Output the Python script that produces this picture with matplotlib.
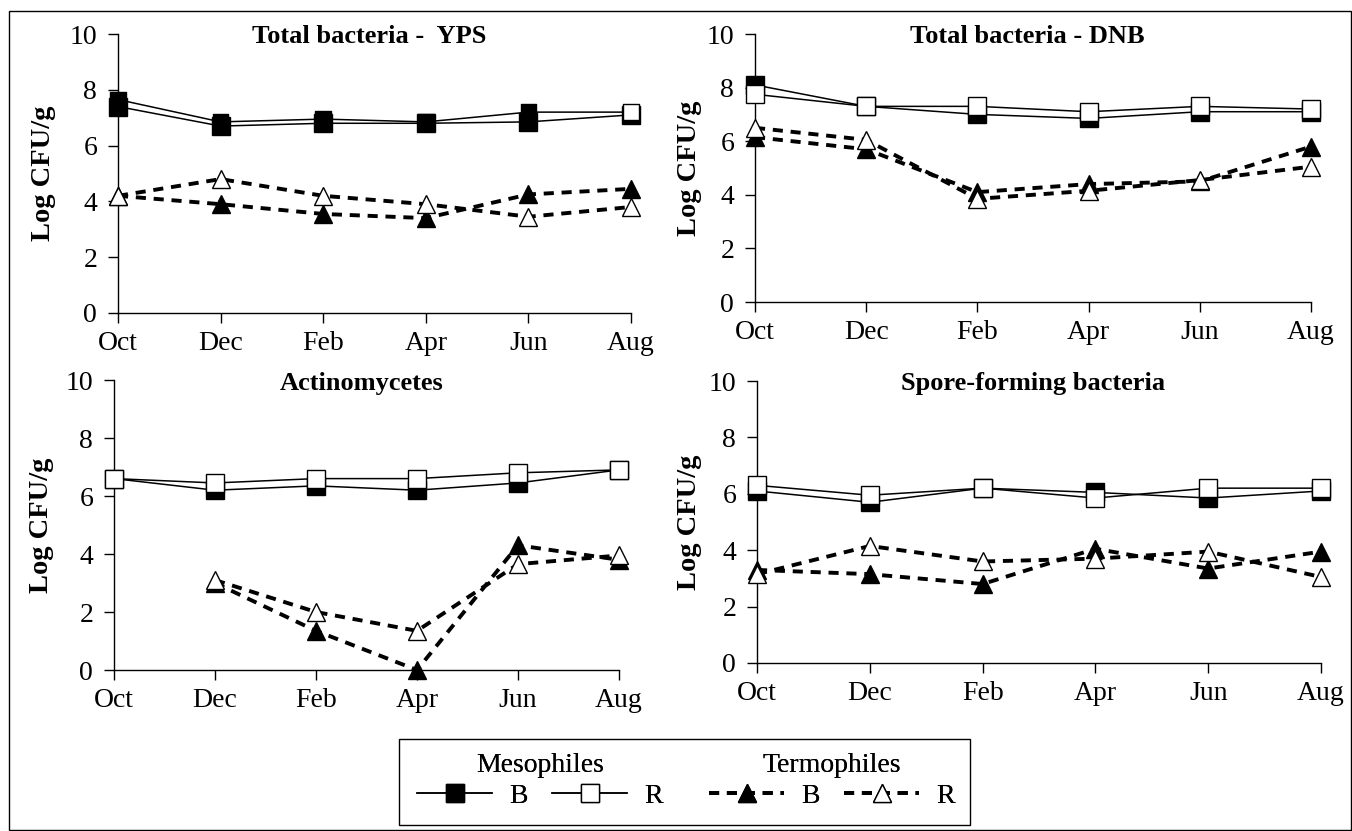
import numpy as np
import matplotlib
matplotlib.use('Agg')
import matplotlib.pyplot as plt
from matplotlib.lines import Line2D
from matplotlib.patches import Rectangle

plt.rcParams['font.family'] = ['Liberation Serif', 'DejaVu Serif']

"""
    Values read from the four panels (Log CFU/g), sampling every two months
"""
months = ['Oct', 'Dec', 'Feb', 'Apr', 'Jun', 'Aug']
titles = ['Total bacteria -  YPS', 'Total bacteria - DNB',
          'Actinomycetes', 'Spore-forming bacteria']

# Total bacteria - YPS
yps_meso_B = [7.4, 6.7, 6.8, 6.8, 6.85, 7.1]
yps_meso_R = [7.65, 6.85, 6.95, 6.85, 7.2, 7.2]
yps_term_B = [4.2, 3.9, 3.55, 3.4, 4.25, 4.45]
yps_term_R = [4.2, 4.8, 4.2, 3.9, 3.45, 3.8]

# Total bacteria - DNB
dnb_meso_B = [8.1, 7.3, 7.0, 6.85, 7.1, 7.1]
dnb_meso_R = [7.75, 7.3, 7.3, 7.1, 7.3, 7.2]
dnb_term_B = [6.15, 5.7, 4.1, 4.4, 4.5, 5.8]
dnb_term_R = [6.5, 6.05, 3.85, 4.15, 4.55, 5.05]

# Actinomycetes (no thermophile count in October)
act_meso_B = [6.6, 6.2, 6.35, 6.2, 6.45, 6.9]
act_meso_R = [6.6, 6.45, 6.6, 6.6, 6.8, 6.9]
act_term_B = [np.nan, 3.0, 1.35, 0.0, 4.3, 3.8]
act_term_R = [np.nan, 3.1, 2.0, 1.35, 3.65, 3.95]

# Spore-forming bacteria
spo_meso_B = [6.1, 5.7, 6.2, 6.05, 5.85, 6.1]
spo_meso_R = [6.3, 5.95, 6.2, 5.85, 6.2, 6.2]
spo_term_B = [3.3, 3.15, 2.8, 4.05, 3.35, 3.95]
spo_term_R = [3.15, 4.15, 3.6, 3.7, 3.95, 3.05]

# in the YPS panel the R squares are printed filled, except the last one
yps_meso_R_fill = ['k', 'k', 'k', 'k', 'k', 'w']

panels = [
    (yps_meso_B, yps_meso_R, yps_term_B, yps_term_R),
    (dnb_meso_B, dnb_meso_R, dnb_term_B, dnb_term_R),
    (act_meso_B, act_meso_R, act_term_B, act_term_R),
    (spo_meso_B, spo_meso_R, spo_term_B, spo_term_R),
]

#%%
W, H = 1352, 831
fig = plt.figure(figsize=(W / 100, H / 100), dpi=100)

# axes boxes in pixels: left, right, top, bottom
boxes = [(118, 631, 34, 313), (755, 1311, 34, 302),
         (114, 619, 380, 670), (757, 1321, 381, 663)]
ylab_right = [56, 702, 54, 702]

dash = (0, (2.6, 2))
msize = 12.5
tick_fs = 20

x = np.arange(len(months))

for i, (mB, mR, tB, tR) in enumerate(panels):
    l, r, t, b = boxes[i]
    ax = fig.add_axes([l / W, 1 - b / H, (r - l) / W, (b - t) / H])

    ax.plot(x, mB, color='black', lw=1.1, marker='s', ms=msize,
            mfc='black', mec='black', clip_on=False, zorder=3)
    if i == 0:
        ax.plot(x, mR, color='black', lw=1.1, clip_on=False, zorder=4)
        ax.scatter(x, mR, marker='s', s=(msize * 0.9) ** 2,
                   facecolors=yps_meso_R_fill, edgecolors='black',
                   linewidths=1.0, clip_on=False, zorder=4)
    else:
        ax.plot(x, mR, color='black', lw=1.1, marker='s', ms=msize,
                mfc='white', mec='black', mew=1.0, clip_on=False, zorder=4)

    ax.plot(x, tB, color='black', lw=2.8, ls=dash, marker='^', ms=msize + 1,
            mfc='black', mec='black', clip_on=False, zorder=5)
    ax.plot(x, tR, color='black', lw=2.8, ls=dash, marker='^', ms=msize + 1,
            mfc='white', mec='black', mew=1.0, clip_on=False, zorder=6)

    ax.set_xlim(0, 5)
    ax.set_ylim(0, 10)
    ax.set_xticks(x)
    ax.set_xticklabels(months)
    ax.set_yticks(np.arange(0, 11, 2))
    for s in ['top', 'right']:
        ax.spines[s].set_visible(False)
    for s in ['left', 'bottom']:
        ax.spines[s].set_linewidth(1.0)
    ax.tick_params(axis='both', direction='out', length=7, width=1.0,
                   labelsize=tick_fs)
    ax.tick_params(axis='x', pad=6)
    ax.tick_params(axis='y', pad=8)

    ax.set_ylabel('Log CFU/g', fontsize=20.5, fontweight='bold')
    ax.yaxis.set_label_coords((ylab_right[i] - l) / (r - l), 0.5)

    ax.text(0.49, 0.967, titles[i], transform=ax.transAxes, ha='center',
            va='baseline', fontsize=19, fontweight='bold')

#%%
"""
    Legend: two groups inside a single box
"""
hB = Line2D([], [], color='black', lw=1.1, marker='s', ms=msize,
            mfc='black', mec='black')
hR = Line2D([], [], color='black', lw=1.1, marker='s', ms=msize,
            mfc='white', mec='black')
tBh = Line2D([], [], color='black', lw=2.8, ls=dash, marker='^', ms=msize + 1,
             mfc='black', mec='black')
tRh = Line2D([], [], color='black', lw=2.8, ls=dash, marker='^', ms=msize + 1,
             mfc='white', mec='black')

for handles, title, cx in [([hB, hR], 'Mesophiles', 540),
                           ([tBh, tRh], 'Termophiles', 832)]:
    leg = fig.legend(handles, ['B', 'R'], title=title, ncol=2,
                     loc='center', bbox_to_anchor=(cx / W, 1 - 781 / H),
                     frameon=False, fontsize=tick_fs, title_fontsize=tick_fs,
                     handlelength=2.7, handletextpad=0.6, columnspacing=0.9,
                     borderpad=0.0, labelspacing=0.2)
    fig.add_artist(leg)

fig.add_artist(Rectangle((399 / W, 1 - 825 / H), (970 - 399) / W,
                         (825 - 739) / H, transform=fig.transFigure,
                         fill=False, lw=1.0, ec='black'))

# outer frame around the whole figure
fig.add_artist(Rectangle((9 / W, 1 - 830 / H), (1351 - 9) / W,
                         (830 - 11) / H, transform=fig.transFigure,
                         fill=False, lw=1.0, ec='black'))

plt.savefig('out.png', dpi=100)
